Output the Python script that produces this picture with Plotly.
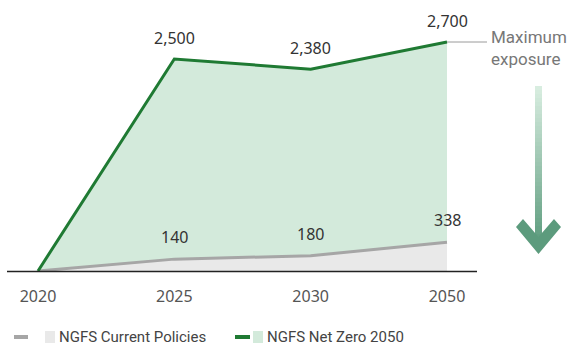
import plotly.graph_objects as go

# Scenario exposure data
years = ["2020", "2025", "2030", "2050"]
current_policies = [0, 140, 180, 338]
net_zero_2050 = [0, 2500, 2380, 2700]
value_labels_cp = ["", "140", "180", "338"]
value_labels_nz = ["", "2,500", "2,380", "2,700"]

W, H = 572, 346
MB = 75  # bottom margin (below the baseline)
PLOT_H = H - MB

GREEN = "#1f7a33"
GREEN_FILL = "#d3eadb"
GREY = "#a6a6a6"
GREY_FILL = "#e9e9e9"

x_idx = list(range(len(years)))


def px(x):
    return x / W


def py(y):
    return (PLOT_H - y) / PLOT_H


fig = go.Figure()

# Net Zero area
fig.add_trace(go.Scatter(
    x=x_idx, y=net_zero_2050, mode="lines", line=dict(width=0, color=GREEN_FILL),
    fill="tozeroy", fillcolor=GREEN_FILL, hoverinfo="skip", showlegend=False,
    cliponaxis=False))
# Current Policies area + line
fig.add_trace(go.Scatter(
    x=x_idx, y=current_policies, mode="lines", line=dict(width=3, color=GREY),
    fill="tozeroy", fillcolor=GREY_FILL, showlegend=False, cliponaxis=False))
# Net Zero line
fig.add_trace(go.Scatter(
    x=x_idx, y=net_zero_2050, mode="lines", line=dict(width=3, color=GREEN),
    showlegend=False, cliponaxis=False))

# Value labels
for xi, v, t in zip(x_idx, net_zero_2050, value_labels_nz):
    if t:
        fig.add_annotation(x=xi, y=v, text=t, showarrow=False, yanchor="bottom",
                           yshift=8, font=dict(family="Noto Sans", size=16, color="#333333"))
for xi, v, t in zip(x_idx, current_policies, value_labels_cp):
    if t:
        fig.add_annotation(x=xi, y=v, text=t, showarrow=False, yanchor="bottom",
                           yshift=9, font=dict(family="Noto Sans", size=16, color="#333333"))

shapes = []
# Baseline axis
shapes.append(dict(type="line", xref="paper", yref="paper",
                   x0=px(7), x1=px(477), y0=py(271.5), y1=py(271.5),
                   line=dict(color="#222222", width=1.5)))

# "Maximum exposure" leader line
shapes.append(dict(type="line", xref="x", yref="y", x0=3, y0=net_zero_2050[-1],
                   x1=3 + 40 / 136.33, y1=net_zero_2050[-1],
                   line=dict(color="#9a9a9a", width=1)))
fig.add_annotation(xref="paper", yref="paper", x=px(489), y=py(48), xanchor="left",
                   yanchor="middle", align="left", showarrow=False,
                   text="Maximum<br>exposure",
                   font=dict(family="Roboto", size=17, color="#777777"))

# Gradient arrow shaft
top, bottom = 86, 246
c0, c1 = (216, 237, 224), (92, 155, 125)
n = 40
for i in range(n):
    t = i / (n - 1)
    col = tuple(round(a + (b - a) * t) for a, b in zip(c0, c1))
    y0 = top + (bottom - top) * i / n
    y1 = top + (bottom - top) * (i + 1) / n + 0.6
    shapes.append(dict(type="line", xref="paper", yref="paper",
                       x0=px(538.5), x1=px(538.5), y0=py(y0), y1=py(y1),
                       line=dict(color="rgb(%d,%d,%d)" % col, width=7)))
# Arrowhead chevron
pts = [(516, 227), (523, 219), (538.5, 237), (554, 219), (561, 227), (538.5, 254)]
path = "M " + " L ".join("%.5f,%.5f" % (px(a), py(b)) for a, b in pts) + " Z"
shapes.append(dict(type="path", xref="paper", yref="paper", path=path,
                   fillcolor="rgb(92,155,125)", line=dict(width=0)))

# Legend
ly = 337
shapes.append(dict(type="line", xref="paper", yref="paper", x0=px(14), x1=px(28),
                   y0=py(ly), y1=py(ly), line=dict(color=GREY, width=4)))
shapes.append(dict(type="rect", xref="paper", yref="paper", x0=px(45), x1=px(55),
                   y0=py(331), y1=py(343), fillcolor=GREY_FILL, line=dict(width=0)))
shapes.append(dict(type="line", xref="paper", yref="paper", x0=px(235), x1=px(250),
                   y0=py(ly), y1=py(ly), line=dict(color=GREEN, width=4)))
shapes.append(dict(type="rect", xref="paper", yref="paper", x0=px(253), x1=px(263),
                   y0=py(331), y1=py(343), fillcolor=GREEN_FILL, line=dict(width=0)))
legend_font = dict(family="Roboto, sans-serif", size=15, color="#444444")
fig.add_annotation(xref="paper", yref="paper", x=px(57), y=py(ly), xanchor="left",
                   yanchor="middle", showarrow=False, text="NGFS Current Policies",
                   font=legend_font)
fig.add_annotation(xref="paper", yref="paper", x=px(265), y=py(ly), xanchor="left",
                   yanchor="middle", showarrow=False, text="NGFS Net Zero 2050",
                   font=legend_font)

x_per = (447 - 38) / 3
fig.update_layout(
    width=W, height=H,
    margin=dict(l=0, r=0, t=0, b=MB),
    paper_bgcolor="white", plot_bgcolor="white",
    shapes=shapes,
    xaxis=dict(range=[-38 / x_per, 3 + (W - 447) / x_per], tickvals=x_idx, ticktext=years,
               showgrid=False, zeroline=False, showline=False, ticks="",
               ticklabelstandoff=14,
               tickfont=dict(family="Noto Sans", size=16, color="#555555")),
    yaxis=dict(range=[0, 2700 * PLOT_H / (PLOT_H - 42)], visible=False,
               showgrid=False, zeroline=False),
)

fig.write_html("out.html")
